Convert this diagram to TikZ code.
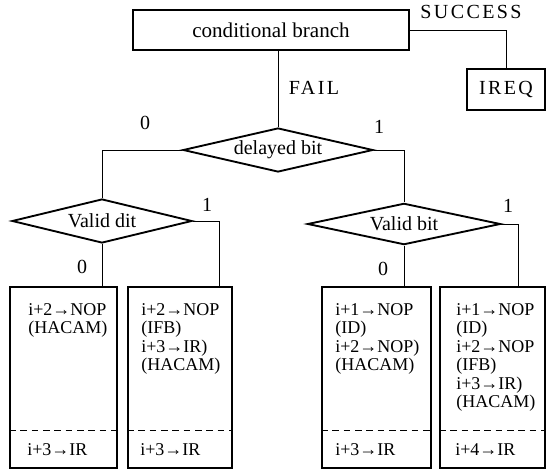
\documentclass[tikz,border=0pt]{standalone}
\usepackage{fontspec}
\setmainfont{Liberation Serif}
\newfontfamily\spacedfont[LetterSpace=12]{Liberation Serif}
\usetikzlibrary{shapes.geometric}

\begin{document}
\begin{tikzpicture}[x=0.75pt,y=-0.75pt,
  shapeline/.style={line width=1.4pt},
  link/.style={line width=0.7pt},
  box/.style={draw,shapeline,rectangle,inner sep=0pt},
  decision/.style={draw,shapeline,diamond,inner sep=0pt,shape aspect=4.3},
  resultbox/.style={box,minimum height=135.75pt},
  lbl/.style={inner sep=0pt,font=\fontsize{15}{18}\selectfont},
  caps/.style={inner sep=0pt,font=\fontsize{15}{18}\spacedfont},
  steps/.style={inner sep=0pt,anchor=north west,align=left,
    font=\fontsize{13.5}{13.9}\selectfont},
  final/.style={inner sep=0pt,anchor=west,font=\fontsize{13.5}{13.9}\selectfont},
  sep/.style={link,dashed,dash pattern=on 5pt off 3.5pt}
]
\useasboundingbox (0,0) rectangle (553,474);

% top of the flow
\node[box,lbl,font=\fontsize{15.8}{18}\selectfont,minimum width=207pt,minimum height=30pt] (cb) at (271,30) {conditional branch};
\node[caps] (succ) at (471,12) {SUCCESS};
\node[box,caps,minimum width=58.5pt,minimum height=30.75pt] (ireq) at (506,89.5) {IREQ};
\draw[link] (cb.east) -| (ireq.north);

% decisions
\node[decision,lbl,minimum width=142.5pt,minimum height=33pt] (dly) at (278,150) {delayed bit};
\node[caps] (fail) at (314,88) {FAIL};
\draw[link] (dly.north) -- (dly.north |- cb.south);

\node[decision,lbl,minimum width=135pt,minimum height=33pt] (vd) at (102,221) {Valid dit};
\node[decision,lbl,minimum width=144.75pt,minimum height=31pt] (vb) at (404,224) {Valid bit};
\draw[link] (dly.west) -| (vd.north);
\draw[link] (dly.east) -| (vb.north);
\node[lbl] (d0) at (145,123) {0};
\node[lbl] (d1) at (379,127) {1};

% result boxes
\node[resultbox,minimum width=80.25pt] (r1) at (63.5,377.5) {};
\node[resultbox,minimum width=78pt] (r2) at (180,377.5) {};
\node[resultbox,minimum width=81.75pt] (r3) at (376.5,377.5) {};
\node[resultbox,minimum width=78.75pt] (r4) at (492.5,377.5) {};

\draw[link] (vd.south) -- (vd.south |- r1.north);
\draw[link] (vd.east) -| ([xshift=29.25pt]r2.north);
\draw[link] (vb.south) -- (vb.south |- r3.north);
\draw[link] (vb.east) -| ([xshift=19.1pt]r4.north);
\node[lbl] (vd0) at (82,267) {0};
\node[lbl] (vd1) at (207,205) {1};
\node[lbl] (vb0) at (383,269) {0};
\node[lbl] (vb1) at (508,206) {1};

% dashed separators
\foreach \b in {r1,r2,r3,r4}
  \draw[sep] ([yshift=28.5pt]\b.south west) -- ([yshift=28.5pt]\b.south east);

% box contents
\node[steps] (t1) at (28,303) {i+2→NOP\\(HACAM)};
\node[steps] (t2) at (141,303) {i+2→NOP\\(IFB)\\i+3→IR)\\(HACAM)};
\node[steps] (t3) at (335,303) {i+1→NOP\\(ID)\\i+2→NOP)\\(HACAM)};
\node[steps] (t4) at (456,303) {i+1→NOP\\(ID)\\i+2→NOP\\(IFB)\\i+3→IR)\\(HACAM)};

\node[final] (f1) at (27,450) {i+3→IR};
\node[final] (f2) at (140,450) {i+3→IR};
\node[final] (f3) at (335,450) {i+3→IR};
\node[final] (f4) at (455,450) {i+4→IR};
\end{tikzpicture}
\end{document}
